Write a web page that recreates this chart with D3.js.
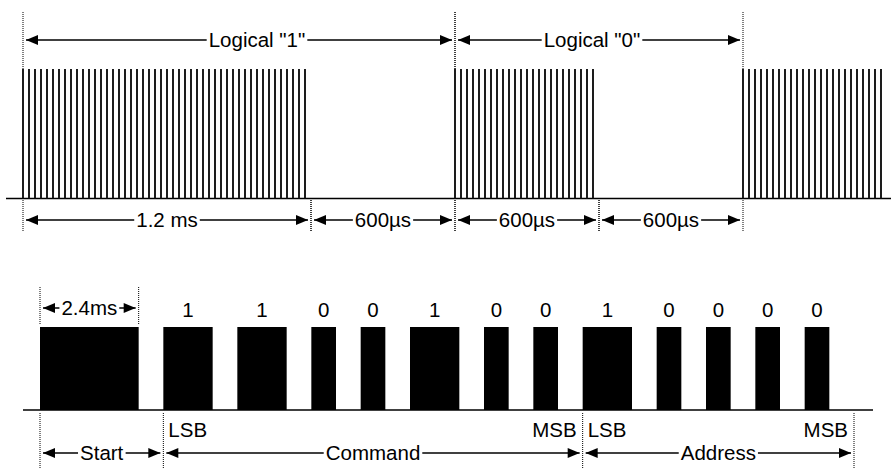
<!DOCTYPE html>
<html>
<head>
<meta charset="utf-8">
<script src="https://cdn.jsdelivr.net/npm/d3@7"></script>
<style>
  body { margin: 0; background: #fff; }
  svg { display: block; font-family: "Liberation Sans", Arial, sans-serif; font-size: 20.5px; }
</style>
</head>
<body>
<svg id="chart" width="891" height="469"></svg>
<script>
// carrier detail (top), times in µs
const burstStarts = [0, 1800, 3000];
const burstLengths = [1200, 600, 600];
const carrierPeriod = 25;
const logicLabels = ['Logical "1"', 'Logical "0"'];
const logicSpans = [[0, 1800], [1800, 3000]];
const timingLabels = ["1.2 ms", "600µs", "600µs", "600µs"];
const timingSpans = [[0, 1200], [1200, 1800], [1800, 2400], [2400, 3000]];

// frame (bottom), times in ms
const startLength = 2.4;
const gapLength = 0.6;
const oneLength = 1.2;
const zeroLength = 0.6;
const commandBits = [1, 1, 0, 0, 1, 0, 0];
const addressBits = [1, 0, 0, 0, 0];

(function sircDiagram() {
  const svg = d3.select("#chart");

  const xTop = d3.scaleLinear().domain([0, 3600]).range([23, 887]);
  const xBot = d3.scaleLinear().domain([0, 19.8]).range([40, 854]);

  function dotted(x, y1, y2) {
    svg.append("line")
      .attr("x1", x).attr("x2", x)
      .attr("y1", y1).attr("y2", y2)
      .attr("stroke", "#000")
      .attr("stroke-width", 1)
      .attr("stroke-dasharray", "1,1");
  }

  function dimArrow(x1, x2, y, label, textX) {
    const g = svg.append("g");
    const a = x1 + 3, b = x2 - 3;
    g.append("line")
      .attr("x1", a).attr("x2", b)
      .attr("y1", y).attr("y2", y)
      .attr("stroke", "#000")
      .attr("stroke-width", 1.3);
    g.append("path")
      .attr("d", `M${a},${y}L${a + 12},${y - 5}L${a + 12},${y + 5}Z`)
      .attr("fill", "#000");
    g.append("path")
      .attr("d", `M${b},${y}L${b - 12},${y - 5}L${b - 12},${y + 5}Z`)
      .attr("fill", "#000");
    const bg = g.append("rect").attr("fill", "#fff");
    const t = g.append("text")
      .attr("x", textX == null ? (x1 + x2) / 2 : textX)
      .attr("y", y + 7)
      .attr("text-anchor", "middle")
      .text(label);
    const bb = t.node().getBBox();
    bg.attr("x", bb.x - 2).attr("y", y - 3)
      .attr("width", bb.width + 4).attr("height", 6);
  }

  // ---- top: 40 kHz carrier ----
  const topBase = 198.5, topHigh = 69;

  svg.append("line")
    .attr("x1", 6).attr("x2", 891)
    .attr("y1", topBase).attr("y2", topBase)
    .attr("stroke", "#000").attr("stroke-width", 1.5);

  const carrier = [];
  burstStarts.forEach((s, i) => {
    for (let t = s; t < s + burstLengths[i]; t += carrierPeriod) carrier.push(t);
  });

  svg.append("g")
    .selectAll("line")
    .data(carrier)
    .join("line")
    .attr("x1", (d) => xTop(d)).attr("x2", (d) => xTop(d))
    .attr("y1", topHigh).attr("y2", topBase)
    .attr("stroke", "#111")
    .attr("stroke-width", 1.9);

  logicSpans.forEach((s) => { dotted(xTop(s[0]), 12, topHigh); dotted(xTop(s[1]), 12, topHigh); });
  timingSpans.forEach((s) => { dotted(xTop(s[0]), 200, 231); dotted(xTop(s[1]), 200, 231); });

  const logicShift = [18, -7];
  logicSpans.forEach((s, i) => {
    dimArrow(xTop(s[0]), xTop(s[1]), 40, logicLabels[i],
      (xTop(s[0]) + xTop(s[1])) / 2 + logicShift[i]);
  });
  timingSpans.forEach((s, i) => {
    dimArrow(xTop(s[0]), xTop(s[1]), 220, timingLabels[i]);
  });

  // ---- bottom: full frame ----
  const botBase = 410, botHigh = 327;

  const bursts = [{ t: 0, len: startLength, bit: null }];
  let t = startLength + gapLength;
  const cmdStart = t;
  commandBits.forEach((b) => {
    const len = b ? oneLength : zeroLength;
    bursts.push({ t, len, bit: b });
    t += len + gapLength;
  });
  const addrStart = t;
  addressBits.forEach((b) => {
    const len = b ? oneLength : zeroLength;
    bursts.push({ t, len, bit: b });
    t += len + gapLength;
  });
  const addrEnd = t;

  svg.append("line")
    .attr("x1", 23).attr("x2", 873)
    .attr("y1", botBase).attr("y2", botBase)
    .attr("stroke", "#000").attr("stroke-width", 1.5);

  svg.append("g")
    .selectAll("rect")
    .data(bursts)
    .join("rect")
    .attr("x", (d) => xBot(d.t))
    .attr("y", botHigh)
    .attr("width", (d) => xBot(d.t + d.len) - xBot(d.t))
    .attr("height", botBase - botHigh)
    .attr("fill", "#000");

  svg.append("g")
    .selectAll("text")
    .data(bursts.filter((d) => d.bit !== null))
    .join("text")
    .attr("x", (d) => xBot(d.t + d.len / 2))
    .attr("y", 317)
    .attr("text-anchor", "middle")
    .text((d) => String(d.bit));

  dotted(xBot(0), 287, 325);
  dotted(xBot(startLength), 287, 325);
  dimArrow(xBot(0), xBot(startLength), 308, "2.4ms");

  [0, cmdStart, addrStart, addrEnd].forEach((v) => dotted(xBot(v), 413, 468));

  [[cmdStart, addrStart], [addrStart, addrEnd]].forEach((s) => {
    svg.append("text").attr("x", xBot(s[0]) + 5).attr("y", 437).text("LSB");
    svg.append("text").attr("x", xBot(s[1]) - 6).attr("y", 437)
      .attr("text-anchor", "end").text("MSB");
  });

  dimArrow(xBot(0), xBot(cmdStart), 453, "Start");
  dimArrow(xBot(cmdStart), xBot(addrStart), 453, "Command");
  dimArrow(xBot(addrStart), xBot(addrEnd), 453, "Address");
})();
</script>
</body>
</html>
